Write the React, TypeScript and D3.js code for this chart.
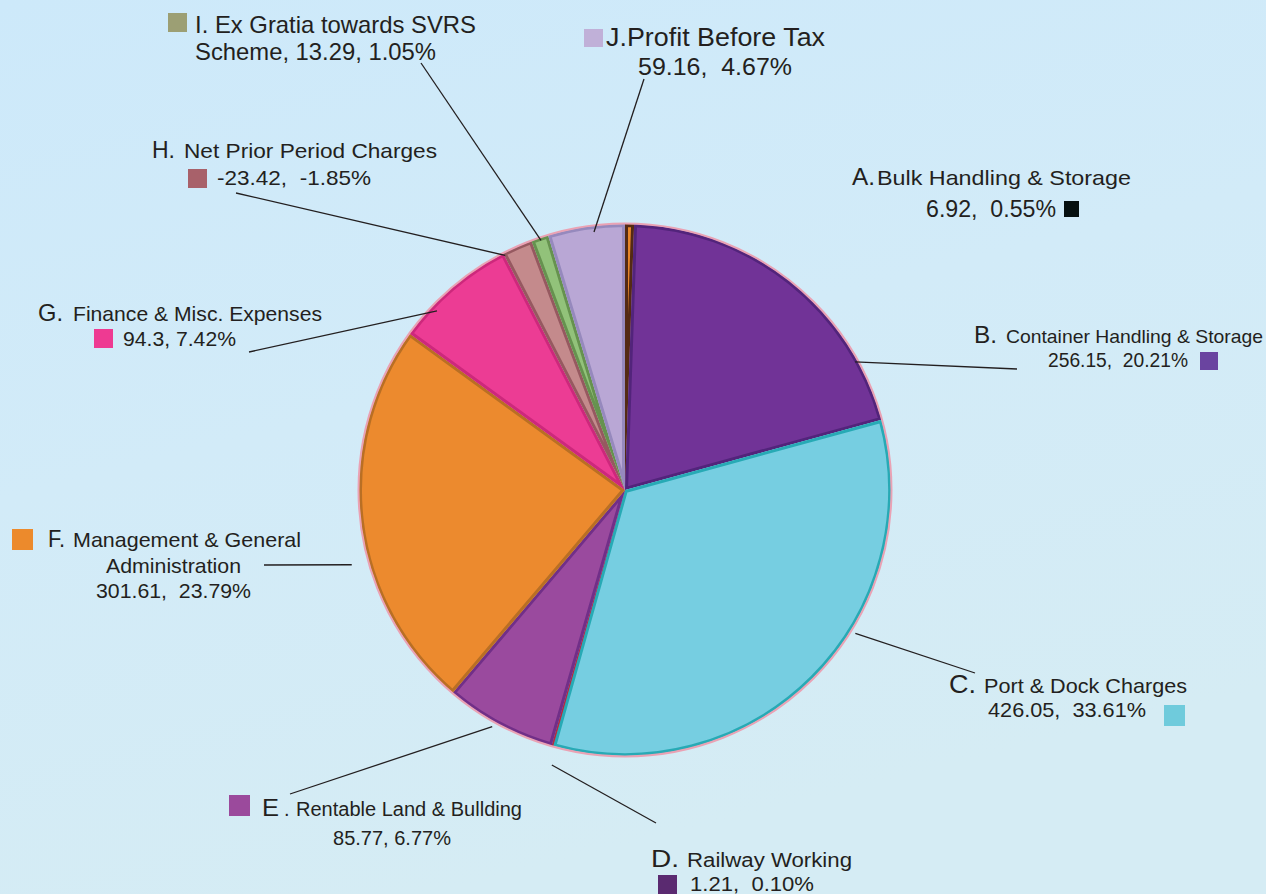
import React, { useEffect } from "react";
import * as d3 from "d3";

// ---------- data ----------
const codes = ["A", "B", "C", "D", "E", "F", "G", "H", "I", "J"];
const names = [
  "Bulk Handling & Storage",
  "Container Handling & Storage",
  "Port & Dock Charges",
  "Railway Working",
  "Rentable Land & Bullding",
  "Management & General Administration",
  "Finance & Misc. Expenses",
  "Net Prior Period Charges",
  "Ex Gratia towards SVRS Scheme",
  "Profit Before Tax",
];
const values = [6.92, 256.15, 426.05, 1.21, 85.77, 301.61, 94.3, -23.42, 13.29, 59.16];
const percents = ["0.55", "20.21", "33.61", "0.10", "6.77", "23.79", "7.42", "-1.85", "1.05", "4.67"];

// ---------- styles ----------
const sliceFill = ["#e8862a", "#713397", "#76cee1", "#6a2050", "#9a4a9e", "#ec8a2e", "#ec3c94", "#c48a8c", "#92c27a", "#b9a7d5"];
const sliceEdge = ["#3a1a10", "#4c2276", "#1aa3ad", "#c0303a", "#6a2a84", "#b06a22", "#c82478", "#8e5058", "#5e8a48", "#8f84b8"];
const legendFill = ["#061010", "#6a44a0", "#6fcbdc", "#5a2a70", "#9b4a9c", "#ec8a2c", "#ee3a92", "#a8616a", "#9c9f74", "#c0b0d8"];

const W = 1266;
const H = 894;
const cx = 625;
const cy = 490;
const R = 266;
const textColor = "#231f20";
const font = "'Liberation Sans', Arial, Helvetica, sans-serif";

type Seg = { t: string; x: number; y: number; s: number; w?: number };
type Label = { i: number; segs: Seg[]; sq: [number, number, number, number]; lead: [number, number, number, number] };
// lead: [angleDeg, radiusFactor, outerX, outerY]

const v = (i: number) => String(values[i]);
const p = (i: number) => percents[i] + "%";

const labels: Label[] = [
  {
    i: 0,
    segs: [
      { t: codes[0] + ".", x: 852, y: 185, s: 24, w: 23 },
      { t: names[0], x: 877, y: 185, s: 21, w: 254 },
      { t: `${v(0)},  ${p(0)}`, x: 926, y: 217, s: 23, w: 130 },
    ],
    sq: [1064, 201, 15, 16],
    lead: [0, 0, 0, 0],
  },
  {
    i: 1,
    segs: [
      { t: codes[1] + ".", x: 974, y: 343, s: 23, w: 23 },
      { t: names[1], x: 1006, y: 343, s: 19, w: 257 },
      { t: `${v(1)},  ${p(1)}`, x: 1048, y: 367, s: 20, w: 140 },
    ],
    sq: [1200, 352, 18, 18],
    lead: [60.9, 0.99, 1017, 369],
  },
  {
    i: 2,
    segs: [
      { t: codes[2] + ".", x: 949, y: 693, s: 25, w: 27 },
      { t: names[2], x: 984, y: 693, s: 21, w: 203 },
      { t: `${v(2)},  ${p(2)}`, x: 988, y: 717, s: 21, w: 158 },
    ],
    sq: [1164, 705, 21, 21],
    lead: [121.9, 1.02, 975, 673],
  },
  {
    i: 3,
    segs: [
      { t: codes[3] + ".", x: 651, y: 867, s: 23, w: 28 },
      { t: names[3], x: 687, y: 867, s: 20, w: 165 },
      { t: `${v(3)},  ${p(3)}`, x: 690, y: 891, s: 21, w: 124 },
    ],
    sq: [658, 875, 19, 19],
    lead: [194.9, 1.07, 656, 823],
  },
  {
    i: 4,
    segs: [
      { t: codes[4], x: 262, y: 816, s: 24, w: 17 },
      { t: ".", x: 284, y: 816, s: 20 },
      { t: names[4], x: 296, y: 816, s: 20, w: 226 },
      { t: `${v(4)}, ${p(4)}`, x: 333, y: 845, s: 20, w: 118 },
    ],
    sq: [229, 795, 21, 21],
    lead: [209.3, 1.02, 290, 794],
  },
  {
    i: 5,
    segs: [
      { t: codes[5] + ".", x: 48, y: 547, s: 24, w: 17 },
      { t: "Management & General", x: 73, y: 547, s: 21, w: 228 },
      { t: "Administration", x: 106, y: 573, s: 21, w: 135 },
      { t: `${v(5)},  ${p(5)}`, x: 96, y: 598, s: 21, w: 155 },
    ],
    sq: [12, 529, 21, 21],
    lead: [254.7, 1.065, 264, 565],
  },
  {
    i: 6,
    segs: [
      { t: codes[6] + ".", x: 38, y: 321, s: 24, w: 25 },
      { t: names[6], x: 73, y: 321, s: 21, w: 249 },
      { t: `${v(6)}, ${p(6)}`, x: 123, y: 346, s: 21, w: 113 },
    ],
    sq: [94, 329, 19, 19],
    lead: [313.6, 0.976, 249, 352],
  },
  {
    i: 7,
    segs: [
      { t: codes[7] + ".", x: 152, y: 158, s: 24, w: 23 },
      { t: names[7], x: 184, y: 158, s: 21, w: 253 },
      { t: `${v(7)},  ${p(7)}`, x: 217, y: 185, s: 21, w: 154 },
    ],
    sq: [188, 169, 19, 19],
    lead: [332.95, 0.99, 236, 193],
  },
  {
    i: 8,
    segs: [
      { t: `${codes[8]}. Ex Gratia towards SVRS`, x: 195, y: 33, s: 24, w: 281 },
      { t: `Scheme, ${v(8)}, ${p(8)}`, x: 195, y: 60, s: 24, w: 241 },
    ],
    sq: [168, 13, 19, 19],
    lead: [341.4, 0.99, 421, 63],
  },
  {
    i: 9,
    segs: [
      { t: `${codes[9]}.${names[9]}`, x: 606, y: 46, s: 25, w: 219 },
      { t: `${v(9)},  ${p(9)}`, x: 638, y: 75, s: 24, w: 154 },
    ],
    sq: [584, 29, 19, 18],
    lead: [353.15, 0.977, 644, 79],
  },
];

export default function App() {
  useEffect(() => {
    document.body.style.margin = "0";
  }, []);

  const pie = d3
    .pie<number>()
    .sort(null)
    .value((d) => Math.abs(d))
    .startAngle(0)
    .endAngle(2 * Math.PI);
  const arcs = pie(values);
  const arc = d3.arc<d3.PieArcDatum<number>>().innerRadius(0).outerRadius(R);

  return (
    <svg width={W} height={H} viewBox={`0 0 ${W} ${H}`} style={{ display: "block" }} fontFamily={font}>
      <defs>
        <linearGradient id="bg" x1="0" y1="0" x2="0.35" y2="1">
          <stop offset="0" stopColor="#cde9fa" />
          <stop offset="0.5" stopColor="#d2ebf8" />
          <stop offset="1" stopColor="#d5ecf4" />
        </linearGradient>
        {arcs.map((a, i) => (
          <clipPath id={`clip-${codes[i]}`} key={codes[i]}>
            <path d={arc(a) || ""} />
          </clipPath>
        ))}
      </defs>
      <rect x={0} y={0} width={W} height={H} fill="url(#bg)" />

      <g transform={`translate(${cx},${cy})`}>
        {arcs.map((a, i) => (
          <g key={codes[i]}>
            <path d={arc(a) || ""} fill={sliceFill[i]} />
            <path
              d={arc(a) || ""}
              fill="none"
              stroke={sliceEdge[i]}
              strokeWidth={6}
              strokeOpacity={0.85}
              strokeLinejoin="round"
              clipPath={`url(#clip-${codes[i]})`}
            />
          </g>
        ))}
        <circle r={R + 0.5} fill="none" stroke="#eaa2b4" strokeWidth={2} />
      </g>

      {labels.map((L) => {
        const hasLead = L.lead[1] > 0;
        const pt = d3.pointRadial((L.lead[0] * Math.PI) / 180, R * L.lead[1]);
        return (
          <g key={codes[L.i]}>
            {hasLead && (
              <line
                x1={cx + pt[0]}
                y1={cy + pt[1]}
                x2={L.lead[2]}
                y2={L.lead[3]}
                stroke={textColor}
                strokeWidth={1.3}
              />
            )}
            <rect x={L.sq[0]} y={L.sq[1]} width={L.sq[2]} height={L.sq[3]} fill={legendFill[L.i]} />
            {L.segs.map((s, k) => (
              <text
                key={k}
                x={s.x}
                y={s.y}
                fontSize={s.s}
                fill={textColor}
                style={{ whiteSpace: "pre" }}
                {...(s.w ? { textLength: s.w, lengthAdjust: "spacingAndGlyphs" } : {})}
              >
                {s.t}
              </text>
            ))}
          </g>
        );
      })}
    </svg>
  );
}
